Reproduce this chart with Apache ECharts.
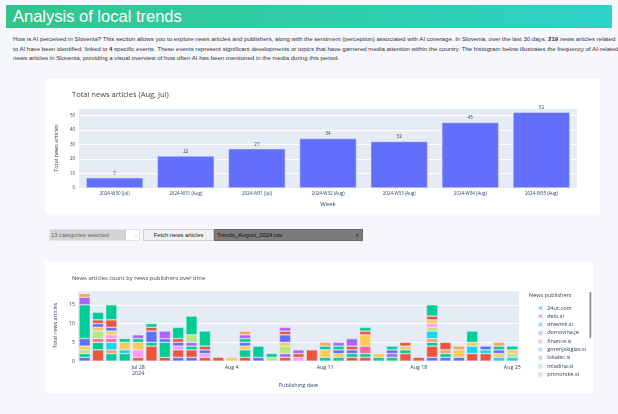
<!DOCTYPE html>
<html>
<head>
<meta charset="utf-8">
<script src="https://cdn.jsdelivr.net/npm/echarts@6/dist/echarts.min.js"></script>
<style>
  html, body { margin:0; padding:0; }
  body { width:618px; height:414px; background:#f5f7fc; position:relative; overflow:hidden; font-family:"Liberation Sans", Arial, sans-serif; }
  #banner { position:absolute; left:6px; top:5px; width:606px; height:23px; background:linear-gradient(90deg,#33c48c 0%,#2fcfae 60%,#2dd2c8 100%); }
  #banner span { position:absolute; left:7px; top:2px; font-size:16.5px; line-height:19px; color:#fff; }
  #intro { position:absolute; left:13px; top:34px; font-size:5.8px; line-height:9.6px; color:#333; white-space:nowrap; }
  .card { position:absolute; background:#fff; }
  #c1 { left:45px; top:79px; width:555px; height:135px; }
  #c2 { left:45px; top:261px; width:548px; height:132px; }
  .ctl { position:absolute; top:229px; height:12px; box-sizing:border-box; font-size:5.8px; line-height:12px; }
  #dd1 { left:49px; width:91px; background:#fff; border:1px solid #e3e3e3; }
  #dd1 .txt { position:absolute; left:0px; top:0px; width:75px; height:10px; line-height:10px; background:#d4d4d4; color:#666; padding-left:1px; }
  #dd1 .arr { position:absolute; left:84px; top:-1px; color:#aaa; font-size:5px; }
  #btn { left:143px; width:71px; background:#f0f0f0; border:1px solid #cfcfcf; text-align:center; color:#222; line-height:10px; }
  #dd2 { left:214px; width:149px; background:#7b7b7b; border:1px solid #6a6a6a; color:#111; line-height:10px; padding-left:2px; }
  #dd2 .arr { position:absolute; right:3px; top:0px; color:#333; font-size:5px; }
</style>
</head>
<body>
<div id="banner"><span>Analysis of local trends</span></div>
<div id="intro"><span id="l1">How is AI perceived in Slovenia? This section allows you to explore news articles and publishers, along with the sentiment (perception) associated with AI coverage. In Slovenia, over the last 30 days, <b>219</b> news articles related</span><br>to AI have been identified, linked to <b>4</b> specific events. These events represent significant developments or topics that have garnered media attention within the country. The histogram below illustrates the frequency of AI-related<br>news articles in Slovenia, providing a visual overview of how often AI has been mentioned in the media during this period.</div>
<div class="card" id="c1"></div>
<div class="ctl" id="dd1"><div class="txt">13 categories selected</div><div class="arr">&#8964;</div></div>
<div class="ctl" id="btn">Fetch news articles</div>
<div class="ctl" id="dd2">Trends_August_2024.csv<div class="arr">&#9662;</div></div>
<div class="card" id="c2"></div>
<script>
// ---- Chart 1 data ----
const weeks = ['2024-W30 (Jul)','2024-W31 (Aug)','2024-W31 (Jul)','2024-W32 (Aug)','2024-W33 (Aug)','2024-W34 (Aug)','2024-W35 (Aug)'];
const weeklyTotals = [7,22,27,34,32,45,52];

// ---- Chart 2 data ----
const dates = ['2024-07-24','2024-07-25','2024-07-26','2024-07-27','2024-07-28','2024-07-29','2024-07-30','2024-07-31',
  '2024-08-01','2024-08-02','2024-08-03','2024-08-04','2024-08-05','2024-08-06','2024-08-07','2024-08-08','2024-08-09',
  '2024-08-10','2024-08-11','2024-08-12','2024-08-13','2024-08-14','2024-08-15','2024-08-16','2024-08-17','2024-08-18',
  '2024-08-19','2024-08-20','2024-08-21','2024-08-22','2024-08-23','2024-08-24','2024-08-25'];
const tickDates = ['2024-07-28','2024-08-04','2024-08-11','2024-08-18','2024-08-25'];
const tickLabels = ['Jul 28\n2024','Aug 4','Aug 11','Aug 18','Aug 25'];
const publishers = ['24ur.com','delo.si','dnevnik.si','domovina.je','finance.si','gorenjskiglas.si','lokalec.si','mladina.si','primorske.si',
  'rtvslo.si','siol.net','slovenskenovice.si','sta.si','svet24.si','vecer.com'];
const s24ur      = [1,0,0,0,0,0,0,1,1,0,0,0,0,1,0,0,0,0,0,0,0,0,0,0,0,0,1,1,1,0,0,0,0];
const sDelo      = [0,3,0,0,1,4,1,2,2,1,1,0,1,0,0,1,0,3,0,0,1,1,0,0,2,1,3,0,0,2,2,0,0];
const sDnevnik   = [1,2,2,2,0,1,4,0,1,0,0,0,2,3,0,0,0,0,1,1,1,1,1,1,1,0,1,1,0,0,0,0,0];
const sDomovina  = [0,0,0,0,0,0,0,0,1,0,0,0,0,0,0,1,0,0,0,0,0,0,0,1,0,0,0,0,0,0,0,0,0];
const sFinance   = [0,0,1,0,0,0,0,0,0,0,0,0,0,0,0,0,0,0,0,0,0,0,0,0,0,0,1,1,0,0,0,0,0];
const sGorenjski = [0,0,2,1,0,0,0,0,0,0,0,0,0,0,0,0,0,0,0,0,0,0,0,0,0,0,2,0,0,2,1,1,1];
const sLokalec   = [0,1,1,0,0,0,0,0,0,0,0,0,0,0,0,0,0,0,0,0,0,2,0,0,0,0,0,0,0,0,0,0,0];
const sMladina   = [1,2,0,0,0,0,0,0,2,0,0,0,0,0,1,2,0,0,0,0,0,0,0,0,0,0,1,0,0,0,0,0,1];
const sPrimorske = [0,0,1,0,2,0,0,1,0,1,0,0,0,0,0,0,1,0,0,0,0,0,0,0,0,0,1,0,0,0,0,0,0];
const sRtv       = [1,1,1,2,2,0,0,0,0,0,0,1,1,0,0,1,0,0,2,1,0,3,1,0,1,0,1,0,2,1,0,1,1];
const sSiol      = [2,1,1,0,0,3,1,1,0,1,0,0,1,0,0,2,0,0,0,1,1,0,0,1,0,0,0,0,0,0,1,1,0];
const sNovice    = [0,1,2,0,0,1,0,1,0,1,0,0,0,0,0,1,1,0,0,0,1,1,0,0,1,0,1,2,0,0,0,0,0];
const sSta       = [9,2,4,1,1,1,0,3,5,4,0,0,1,0,1,0,0,0,1,1,0,1,0,1,0,0,3,0,0,3,0,1,1];
const sSvet24    = [2,0,0,0,1,0,2,0,0,0,0,0,1,0,0,1,1,0,0,1,2,0,0,0,0,0,0,0,0,0,0,0,0];
const sVecer     = [1,0,0,0,0,0,0,0,0,0,0,0,1,0,0,0,0,0,1,0,0,0,0,0,0,0,0,0,1,0,0,1,0];
const publisherCounts = [s24ur,sDelo,sDnevnik,sDomovina,sFinance,sGorenjski,sLokalec,sMladina,sPrimorske,sRtv,sSiol,sNovice,sSta,sSvet24,sVecer];
const palette = ['#636efa','#EF553B','#00cc96','#ab63fa','#FFA15A','#19d3f3','#FF6692','#B6E880','#FF97FF','#FECB52'];

// fit intro paragraph width
(function(){
  const p = document.getElementById('intro');
  const l1 = document.getElementById('l1');
  const w = l1.getBoundingClientRect().width;
  const fs = 5.8 * 604 / w;
  p.style.fontSize = fs + 'px';
})();

const FONT = 'Open Sans';
const TXT = '#2a3f5f';

const ch1 = echarts.init(document.getElementById('c1'), null, {renderer:'canvas'});
ch1.setOption({
  animation:false,
  textStyle:{fontFamily:FONT},
  title:{text:'Total news articles (Aug, Jul)', left:22, top:7, textStyle:{fontSize:7.5, fontWeight:'normal', color:'#444', fontFamily:FONT}},
  grid:{left:23, top:29, width:509, height:80, show:true, backgroundColor:'#E5ECF6', borderWidth:0},
  xAxis:{type:'category', data:weeks, axisLine:{show:false}, axisTick:{show:false},
    axisLabel:{fontSize:4.5, color:TXT, margin:3, interval:0},
    name:'Week', nameLocation:'middle', nameGap:10, nameTextStyle:{fontSize:6, color:TXT}},
  yAxis:{type:'value', min:0, max:55, interval:10,
    axisLabel:{fontSize:4.5, color:TXT, margin:4, showMaxLabel:false},
    splitLine:{lineStyle:{color:'#ffffff', width:1}},
    name:'Total news articles', nameLocation:'middle', nameGap:16, nameTextStyle:{fontSize:5.5, color:TXT}},
  series:[{type:'bar', data:weeklyTotals, barCategoryGap:'20%',
    itemStyle:{color:'#636efa', borderColor:'#E5ECF6', borderWidth:0.5},
    label:{show:true, position:'top', fontSize:4.5, color:TXT, distance:2}}]
});

const labelMap = {};
tickDates.forEach((d,i)=>{ labelMap[d] = tickLabels[i]; });

const ch2 = echarts.init(document.getElementById('c2'), null, {renderer:'canvas'});
ch2.setOption({
  animation:false,
  textStyle:{fontFamily:FONT},
  title:{text:'News articles count by news publishers over time', left:22, top:9, textStyle:{fontSize:5.8, fontWeight:'normal', color:'#444', fontFamily:FONT}},
  grid:{left:24, top:29, width:450, height:77.3, show:true, backgroundColor:'#E5ECF6', borderWidth:0},
  legend:{orient:'vertical', left:487.7, top:39, itemWidth:3.5, itemHeight:3.5, itemGap:2.3, icon:'rect',
    selectedMode:false, data:publishers.slice(0,9),
    textStyle:{fontSize:5.5, color:TXT, lineHeight:5.5, fontFamily:FONT}},
  xAxis:{type:'category', data:dates, axisLine:{show:false}, axisTick:{show:false},
    axisLabel:{fontSize:5.3, color:TXT, margin:3, lineHeight:6.5,
      interval:(idx, val)=> labelMap[val] !== undefined,
      formatter:(val)=> labelMap[val] || ''},
    name:'Publishing date', nameLocation:'middle', nameGap:18.5, nameTextStyle:{fontSize:5.5, color:TXT}},
  yAxis:{type:'value', min:0, max:18.95, interval:5,
    axisLabel:{fontSize:5.3, color:TXT, margin:3, showMaxLabel:false},
    splitLine:{lineStyle:{color:'#ffffff', width:1}},
    name:'Total news articles', nameLocation:'middle', nameGap:16, nameTextStyle:{fontSize:5.3, color:TXT}},
  graphic:[
    {type:'text', left:484, top:31, style:{text:'News publishers', fontSize:5.5, fill:TXT, fontFamily:FONT}},
    {type:'rect', shape:{x:544.5, y:31, width:1.8, height:46, r:0.9}, style:{fill:'#8c8c8c'}}
  ],
  series: publishers.map((name,i)=>({
    type:'bar', name:name, stack:'total', barCategoryGap:'16%',
    data: publisherCounts[i].map(v => v === 0 ? '-' : v),
    itemStyle:{color:palette[i % palette.length], borderColor:'#E5ECF6', borderWidth:0.5}
  }))
});
</script>
</body>
</html>
